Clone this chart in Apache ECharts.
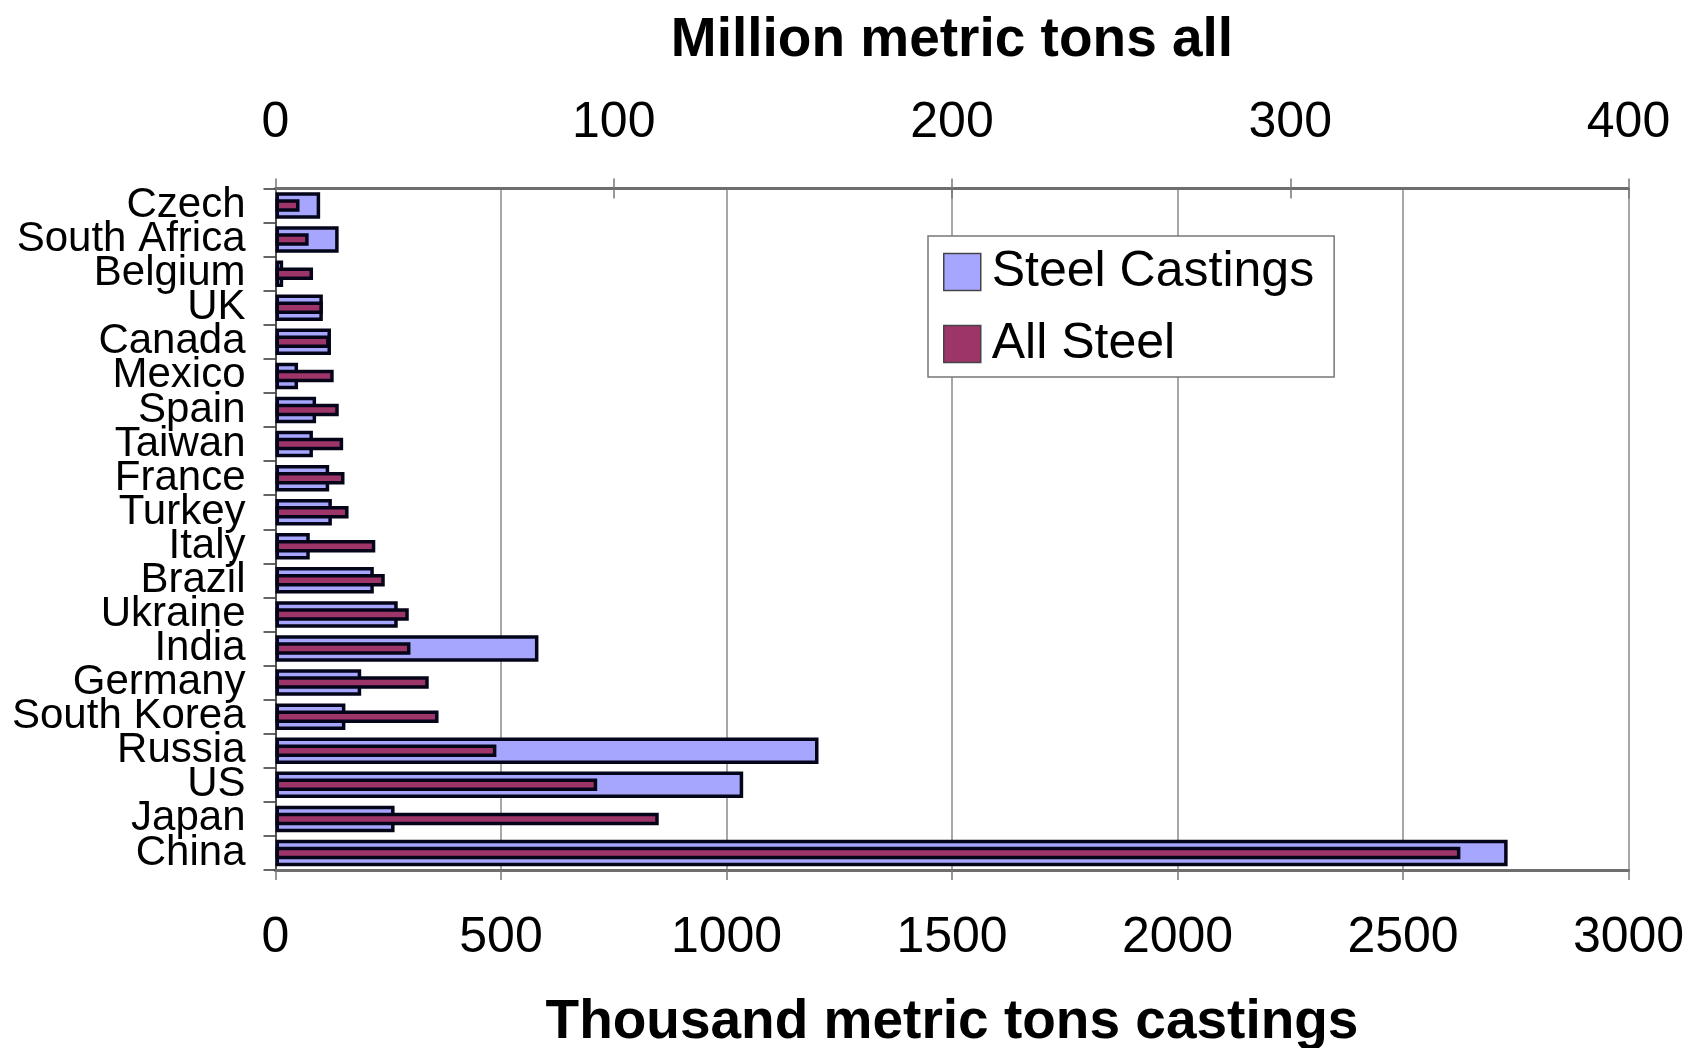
<!DOCTYPE html>
<html>
<head>
<meta charset="utf-8">
<script src="https://cdn.jsdelivr.net/npm/echarts@6/dist/echarts.min.js"></script>
<style>
  html, body { margin: 0; padding: 0; background: #fff; }
  #chart { width: 1688px; height: 1048px; }
</style>
</head>
<body>
<div id="chart"></div>
<script>
// Producing countries, top to bottom
const countries = ['Czech', 'South Africa', 'Belgium', 'UK', 'Canada', 'Mexico', 'Spain', 'Taiwan',
  'France', 'Turkey', 'Italy', 'Brazil', 'Ukraine', 'India', 'Germany', 'South Korea',
  'Russia', 'US', 'Japan', 'China'];

// Steel castings, thousand metric tons
const steelCastings = [99, 140, 17, 105, 123, 50, 90, 83, 119, 125, 76, 218, 271, 583, 190, 155,
  1204, 1037, 264, 2732];

// All steel production, million metric tons
const allSteel = [7.1, 9.8, 11.1, 14.0, 16.0, 17.2, 18.7, 20.0, 20.4, 21.6, 29.5, 32.3, 39.4,
  39.9, 45.3, 48.2, 65.3, 95.1, 113.3, 350.3];

const castingsTicks = { min: 0, max: 3000, interval: 500 };
const allSteelTicks = { min: 0, max: 400, interval: 100 };

const FONT = '"Liberation Sans", Arial, sans-serif';
const plainNumber = v => String(v);
const chart = echarts.init(document.getElementById('chart'), null, { renderer: 'canvas' });

chart.setOption({
  animation: false,
  backgroundColor: '#ffffff',
  textStyle: { fontFamily: FONT, color: '#000' },
  grid: {
    left: 275.5, right: 59.5, top: 188.5, bottom: 178,
    containLabel: false, outerBoundsMode: 'none'
  },
  legend: {
    orient: 'vertical',
    left: 928, top: 236,
    padding: [11, 20, 8, 15],
    itemWidth: 37, itemHeight: 37, itemGap: 22,
    backgroundColor: '#ffffff',
    borderColor: '#777', borderWidth: 1.5, borderRadius: 0,
    icon: 'rect',
    itemStyle: { borderColor: '#444', borderWidth: 1.5 },
    textStyle: { fontFamily: FONT, fontSize: 50, color: '#000', padding: [0, 0, 0, 6] },
    data: ['Steel Castings', 'All Steel']
  },
  xAxis: [
    {
      type: 'value', position: 'bottom', gridIndex: 0,
      min: castingsTicks.min, max: castingsTicks.max, interval: castingsTicks.interval,
      name: 'Thousand metric tons castings', nameLocation: 'middle', nameGap: 125,
      nameTextStyle: { fontFamily: FONT, fontSize: 55, fontWeight: 'bold', color: '#000' },
      axisLine: { show: true, lineStyle: { color: '#6e6e6e', width: 3 } },
      axisTick: { show: true, length: 10, lineStyle: { color: '#777', width: 1.5 } },
      axisLabel: { fontFamily: FONT, fontSize: 50, color: '#000', margin: 43, formatter: plainNumber },
      splitLine: { show: true, lineStyle: { color: '#8a8a8a', width: 1.5 } }
    },
    {
      type: 'value', position: 'top', gridIndex: 0,
      min: allSteelTicks.min, max: allSteelTicks.max, interval: allSteelTicks.interval,
      name: 'Million metric tons all', nameLocation: 'middle', nameGap: 120,
      nameTextStyle: { fontFamily: FONT, fontSize: 55, fontWeight: 'bold', color: '#000' },
      axisLine: { show: true, lineStyle: { color: '#6e6e6e', width: 3 } },
      axisTick: { show: true, length: 10, lineStyle: { color: '#777', width: 1.5 } },
      axisLabel: { fontFamily: FONT, fontSize: 50, color: '#000', margin: 40, formatter: plainNumber },
      splitLine: { show: false }
    },
    {
      // inner half of the crossing ticks on the top scale
      type: 'value', position: 'top', gridIndex: 0,
      min: allSteelTicks.min, max: allSteelTicks.max, interval: allSteelTicks.interval,
      axisLine: { show: false },
      axisTick: { show: true, inside: true, length: 10, lineStyle: { color: '#777', width: 1.5 } },
      axisLabel: { show: false },
      splitLine: { show: false }
    }
  ],
  yAxis: [
    {
      type: 'category', inverse: true, data: countries, gridIndex: 0,
      axisLine: { show: true, lineStyle: { color: '#333', width: 1.5 } },
      axisTick: { show: true, length: 12, lineStyle: { color: '#333', width: 1.5 } },
      axisLabel: { interval: 0, fontFamily: FONT, fontSize: 42, color: '#000', margin: 30 },
      splitLine: { show: false }
    },
    {
      type: 'category', inverse: true, data: countries, gridIndex: 0, show: false
    }
  ],
  series: [
    {
      name: 'Steel Castings', type: 'bar',
      xAxisIndex: 0, yAxisIndex: 0,
      barWidth: 26.5,
      itemStyle: { color: '#a6a6ff', borderColor: '#05051a', borderWidth: 3.5 },
      data: steelCastings
    },
    {
      name: 'All Steel', type: 'bar',
      xAxisIndex: 1, yAxisIndex: 1,
      barWidth: 12.5,
      itemStyle: { color: '#9e3568', borderColor: '#05051a', borderWidth: 3.5 },
      data: allSteel
    }
  ]
});
</script>
</body>
</html>
